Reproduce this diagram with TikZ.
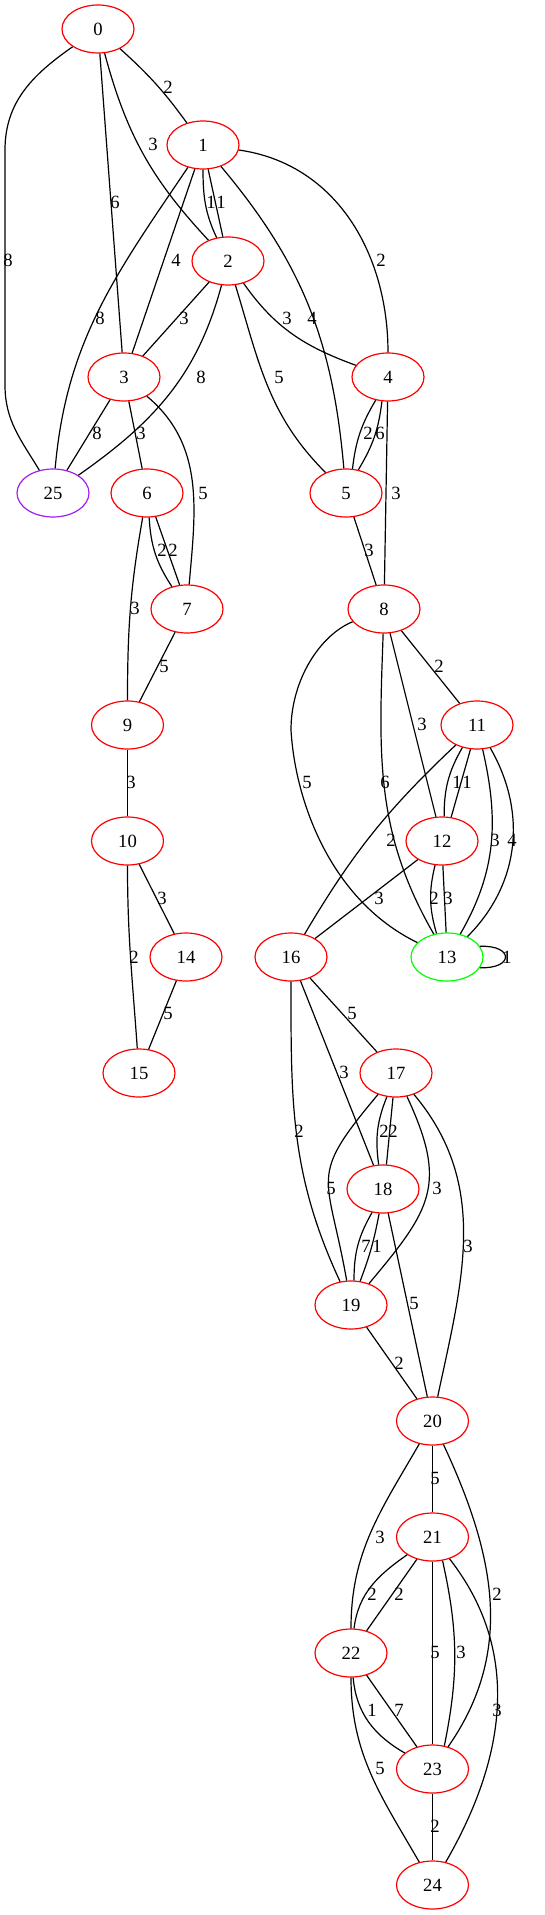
\documentclass[tikz,border=0pt]{standalone}
\usepackage{fontspec}
\setmainfont{Liberation Serif}
\usetikzlibrary{shapes.geometric}
\definecolor{vpurple}{RGB}{160,32,240}
\definecolor{vgreen}{RGB}{0,255,0}
\tikzset{
  vert/.style={ellipse,draw=red,line width=0.9pt,minimum width=54pt,minimum height=36pt,inner sep=0pt,font=\fontsize{14}{16}\selectfont},
  wt/.style={inner sep=0pt,font=\fontsize{14}{16}\selectfont},
  edge/.style={line width=0.9pt}
}
\begin{document}
\begin{tikzpicture}[x=0.75pt,y=0.75pt]
\useasboundingbox (0,0) rectangle (544,-1915);
% vertices
\foreach \n/\x/\y/\c in {0/98/29/red,1/203/145/red,2/228/261/red,3/124/377/red,4/388/377/red,
  25/53/493/vpurple,6/147/493/red,5/346/493/red,7/187/609/red,8/384/609/red,
  9/127.5/725/red,11/477/725/red,10/127.5/841/red,12/442/841/red,14/186/957/red,
  16/291/957/red,13/447/957/vgreen,15/139/1073/red,17/396/1073/red,18/383/1189/red,
  19/351/1305/red,20/432.5/1421/red,21/432.5/1537/red,22/351/1653/red,23/432.5/1769/red,24/432.5/1885/red}
{
\node[vert,draw=\c] (n\n) at (\x,-\y) {\n};
}

% straight edges
\foreach \a/\b in {0/3,1/3,2/3,3/25,3/6,4/8,5/8,7/9,8/11,8/12,12/16,9/10,10/14,14/15,
  16/17,16/18,18/20,19/20,20/21,21/22,21/23,22/23,23/24}
{
\draw[edge] (n\a) -- (n\b);
}

% curved and parallel edges
\draw[edge] (n0) to[bend left=6] (n1);
\draw[edge] (n0) to[bend right=14] (n2);
\draw[edge] (n0) to[out=215,in=90] (5,-150) -- (5,-385) to[out=-90,in=121] (n25);
\draw[edge] (n1.270) to[out=-90,in=115] (n2.116);
\draw[edge] (n1.282) -- (n2.102);
\draw[edge] (n1) to[out=236,in=85] (n25);
\draw[edge] (n1) to[out=-50,in=95] (n5);
\draw[edge] (n1) to[out=-8,in=90] (n4);
\draw[edge] (n2) to[out=-55,in=160] (n4);
\draw[edge] (n2) to[out=-73,in=135] (n5);
\draw[edge] (n2) to[out=255,in=35] (n25);
\draw[edge] (n3) to[out=-40,in=85] (n7);
\draw[edge] (n4.242) to[bend right=12] (n5.75);
\draw[edge] (n4.256) to[bend left=12] (n5.62);
\draw[edge] (n6.275) to[bend right=15] (n7.124);
\draw[edge] (n6.290) -- (n7.107);
\draw[edge] (n6) to[out=-100,in=90] (n9);
\draw[edge] (n8) to[out=-92,in=120] (n13);
\draw[edge] (n8) .. controls (320,-635) and (291,-680) .. (291,-730)
  .. controls (295,-800) and (330,-900) .. (n13);
\draw[edge] (n11) to[bend right=8] (n16);
\draw[edge] (n11.237) to[bend right=15] (n12.85);
\draw[edge] (n11.255) -- (n12.69);
\draw[edge] (n11) to[out=-77,in=60] (n13);
\draw[edge] (n11) to[out=-60,in=45] (n13);
\draw[edge] (n12.254) to[bend right=15] (n13.114);
\draw[edge] (n12.272) -- (n13.92);
\draw[edge] (n13.18) .. controls (514,-945) and (514,-969) .. (n13.-18);
\draw[edge] (n10) to[out=-90,in=94] (n15);
\draw[edge] (n16) to[out=-90,in=115] (n19);
\draw[edge] (n17.249) to[bend right=15] (n18.100);
\draw[edge] (n17.263) -- (n18.82);
\draw[edge] (n17) to[out=230,in=100,looseness=1.5] (n19);
\draw[edge] (n17) to[out=-65,in=50,looseness=1.3] (n19);
\draw[edge] (n17) to[out=-50,in=78] (n20);
\draw[edge] (n18.245) to[bend right=15] (n19.83);
\draw[edge] (n18.261) to[bend left=5] (n19.69);
\draw[edge] (n20) to[out=240,in=90] (n22);
\draw[edge] (n20) to[out=-65,in=55] (n23);
\draw[edge] (n21) to[out=215,in=83] (n22);
\draw[edge] (n21.-67) to[bend left=12] (n23.63);
\draw[edge] (n21) to[out=-52,in=60] (n24);
\draw[edge] (n22) to[out=-85,in=150] (n23);
\draw[edge] (n22) to[out=-90,in=120] (n24);

% weights
\foreach \x/\y/\t [count=\i] in {168/87/2,153/144/3,115/202/6,8/260/8,211/202/1,221/202/1,
  176/260/4,381/260/2,100/318/8,184/318/3,287/318/3,312/318/4,201/377/8,279/377/5,
  97/433/8,141/433/3,368/433/2,380/433/6,203/493/5,396/493/3,162/550/2,173/550/2,
  369/550/3,135/608/3,164/666/5,439/666/2,422/724/3,131/782/3,307/782/5,385/782/6,
  457/782/1,467/782/1,391/840/2,495/840/3,512/840/4,162/898/3,379/898/3,434/898/2,
  448/898/3,134/957/2,507/957/1,168/1013/5,352/1013/5,344/1072/3,299/1131/2,
  384/1131/2,393/1131/2,331/1188/5,437/1188/3,468/1246/3,366/1246/7,377/1246/1,
  414/1303/5,399/1363/2,435/1478/5,380/1537/3,372/1594/2,399/1594/2,497/1594/2,
  435/1652/5,461/1652/3,372/1710/1,399/1710/7,497/1710/3,380/1768/5,435/1826/2}
{
\node[wt] (w\i) at (\x,-\y) {\t};
}
\end{tikzpicture}
\end{document}
